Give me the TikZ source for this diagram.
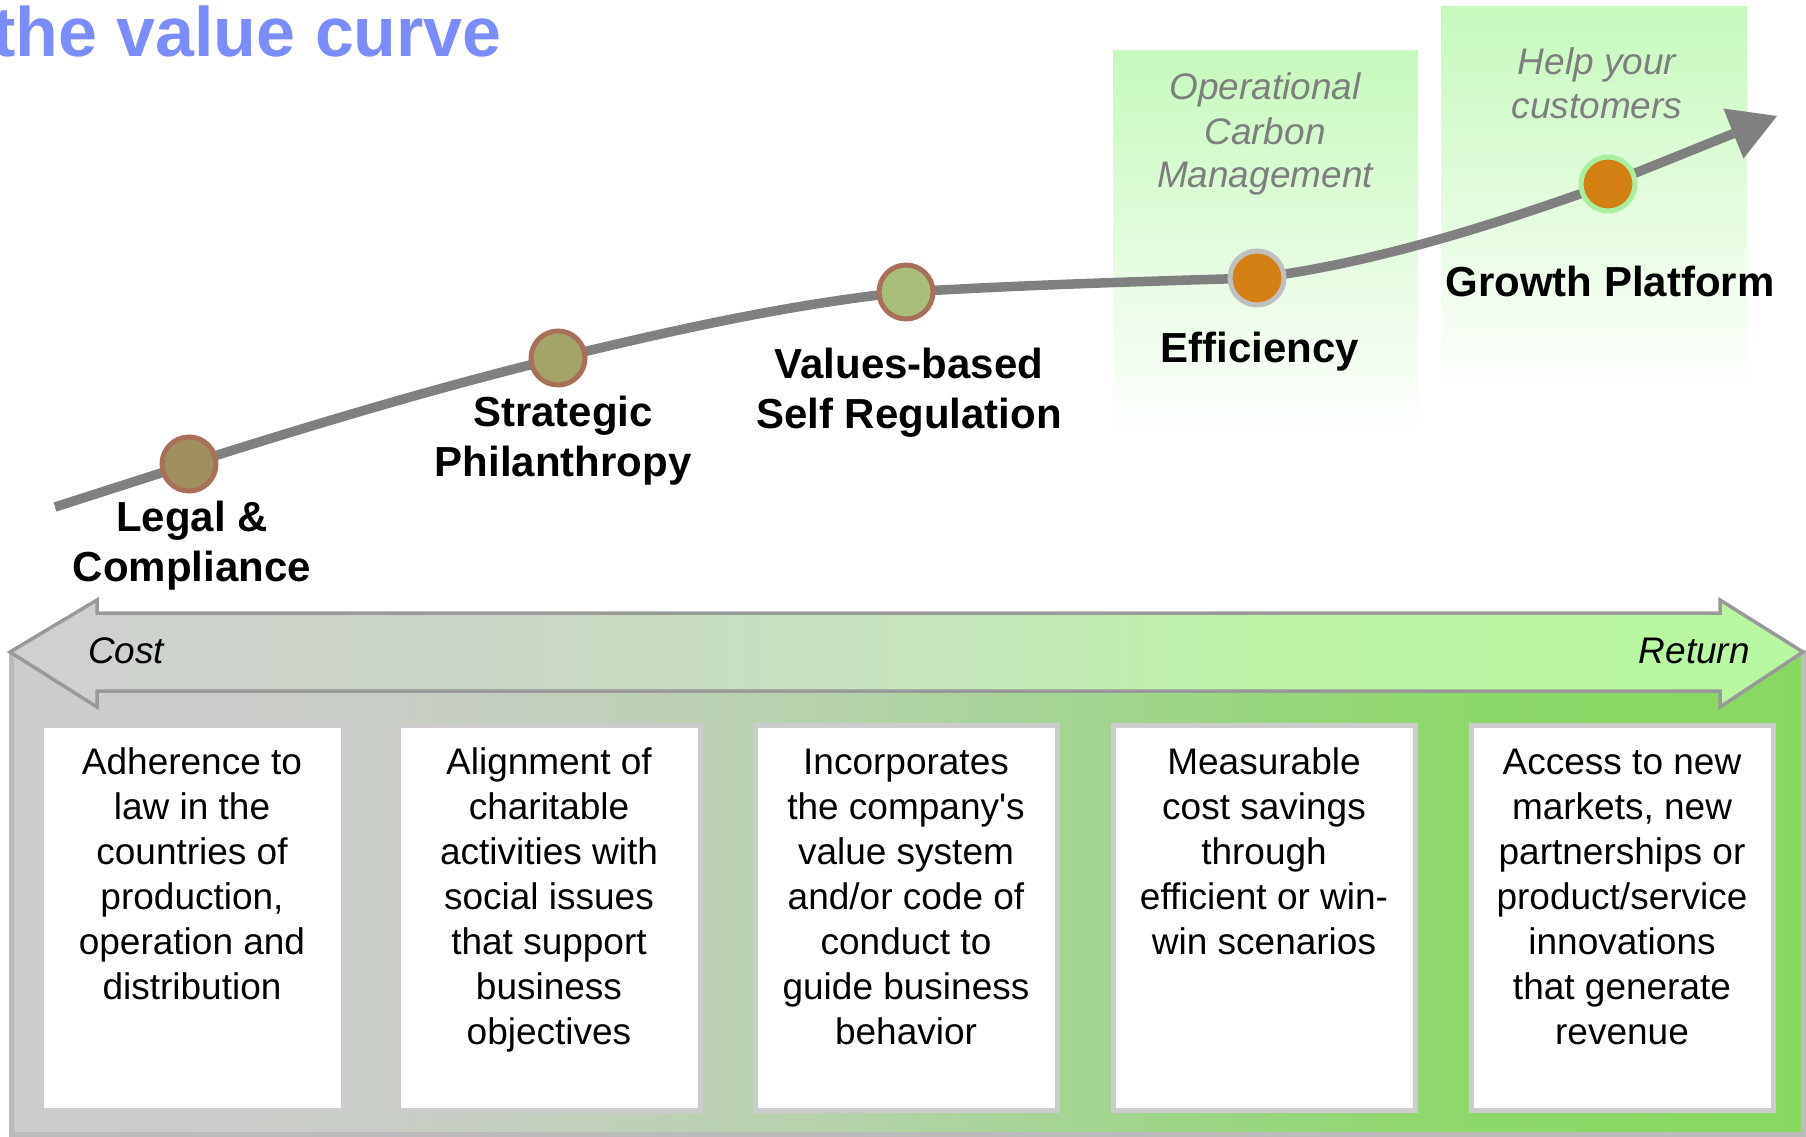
\documentclass[tikz,border=0pt]{standalone}
\usepackage{fontspec}
\setmainfont{Liberation Sans}
\newfontfamily\plainsans{Liberation Sans}
\usetikzlibrary{arrows.meta}

% palette
\definecolor{titleblue}{HTML}{7B8CFF}
\definecolor{curvegray}{HTML}{808080}
\definecolor{notegray}{HTML}{7E7E7E}
\definecolor{paleG}{HTML}{C6F9BC}
\definecolor{rimbrown}{HTML}{A87058}
\definecolor{legalfill}{HTML}{A09060}
\definecolor{stratfill}{HTML}{A4A468}
\definecolor{valuefill}{HTML}{A8BE78}
\definecolor{orangefill}{HTML}{D48014}
\definecolor{rimgray}{HTML}{C0C0C0}
\definecolor{rimgreen}{HTML}{A8F0A0}
\definecolor{frameline}{HTML}{BBBBBB}
\definecolor{bandline}{HTML}{999999}
\definecolor{cardline}{HTML}{CCCCCC}
% frame gradient stops
\definecolor{frA}{HTML}{CCCCCC}
\definecolor{frB}{HTML}{C9CDC7}
\definecolor{frC}{HTML}{B8D2AE}
\definecolor{frD}{HTML}{A8D49A}
\definecolor{frE}{HTML}{8ED86C}
\definecolor{frF}{HTML}{88D860}
% band gradient stops
\definecolor{bdA}{HTML}{D0D0D0}
\definecolor{bdB}{HTML}{CAD6C6}
\definecolor{bdC}{HTML}{C6E4BE}
\definecolor{bdD}{HTML}{BCF4A4}
\definecolor{bdE}{HTML}{B8F8A0}

\pgfdeclarehorizontalshading{framegrad}{100bp}{color(0bp)=(frA); color(25bp)=(frA); color(35bp)=(frB); color(47bp)=(frC); color(52.5bp)=(frD); color(65bp)=(frE); color(75bp)=(frF); color(100bp)=(frF)}
\pgfdeclarehorizontalshading{bandgrad}{100bp}{color(0bp)=(bdA); color(25bp)=(bdA); color(37.5bp)=(bdB); color(50bp)=(bdC); color(61bp)=(bdD); color(75bp)=(bdE); color(100bp)=(bdE)}

\begin{document}
\begin{tikzpicture}[x=1pt,y=-1pt,
  curve/.style={draw=curvegray, line width=9.5pt, line cap=butt,
    -{Triangle[length=47pt,width=54pt,line width=0pt]}},
  dot/.style={circle, minimum size=54pt, inner sep=0pt, line width=5pt},
  stage/.style={inner sep=0pt, anchor=base, font=\fontsize{42}{50.5}\selectfont\bfseries},
  note/.style={inner sep=0pt, anchor=base, text=notegray, font=\fontsize{37}{44}\selectfont\itshape},
  card/.style={draw=cardline, fill=white, line width=5pt, minimum width=302pt, minimum height=385pt, inner sep=0pt},
  cardtext/.style={inner sep=0pt, anchor=base, font=\fontsize{37}{45}\selectfont},
  axislabel/.style={inner sep=0pt, font=\fontsize{37}{45}\selectfont\itshape},
  glow/.style={top color=paleG, bottom color=white, draw=none}
]
\useasboundingbox (0,0) rectangle (1806,1137);

% title
\node[anchor=base west, inner sep=0pt, text=titleblue,
  font=\fontsize{70}{84}\selectfont\bfseries] (title) at (-8,57) {the value curve};

% highlighted stages
\path[glow] (1113,51) rectangle (1418,436);
\path[glow] (1441,7) rectangle (1747,392);

\node[note] (opnote) at (1265,100) {\parbox[t]{300pt}{\centering Operational\\Carbon\\Management}};
\node[note] (helpnote) at (1597,75) {\parbox[t]{300pt}{\centering Help your\\customers}};

% points on the value curve
\coordinate (c0) at (55,507);
\coordinate (cL) at (189,464);
\coordinate (cS) at (558,358);
\coordinate (cV) at (906,292);
\coordinate (cE) at (1257,278);
\coordinate (cG) at (1608,184);
\coordinate (cT) at (1777,116);

\draw[curve] (c0) -- (cL)
  .. controls (312,425) and (435,388) .. (cS)
  .. controls (674,330) and (790,304) .. (cV)
  .. controls (1023,285) and (1140,281.5) .. (cE)
  .. controls (1374,263) and (1491,226) .. (cG)
  -- (cT);

\node[dot, draw=rimbrown, fill=legalfill] (legal) at (cL) {};
\node[dot, draw=rimbrown, fill=stratfill] (strat) at (cS) {};
\node[dot, draw=rimbrown, fill=valuefill] (values) at (cV) {};
\node[dot, draw=rimgray, fill=orangefill] (eff) at (cE) {};
\node[dot, draw=rimgreen, fill=orangefill] (growth) at (cG) {};

\node[stage] (legallbl) at (192,531) {\parbox[t]{400pt}{\centering Legal \&\\Compliance}};
\node[stage] (stratlbl) at (563,426) {\parbox[t]{400pt}{\centering Strategic\\Philanthropy}};
\node[stage] (valueslbl) at (909,378) {\parbox[t]{400pt}{\centering Values-based\\Self Regulation}};
\node[stage] (efflbl) at (1260,362) {Efficiency};
\node[stage] (growthlbl) at (1610,296) {Growth Platform};

% cost / return frame
\path[draw=frameline, line width=5pt, shading=framegrad] (11,652) rectangle (1803,1134);
\path[draw=bandline, line width=3.5pt, shading=bandgrad, line join=miter]
  (10,652) -- (97,600) -- (97,613) -- (1720,613) -- (1720,600) -- (1803,652)
  -- (1720,707) -- (1720,691) -- (97,691) -- (97,707) -- cycle;
\node[axislabel, anchor=base west] (cost) at (88,663) {Cost};
\node[axislabel, anchor=base east] (return) at (1750,663) {Return};

% description cards
\node[card] (b1) at (192,918) {};
\node[card] (b2) at (549,918) {};
\node[card] (b3) at (906,918) {};
\node[card] (b4) at (1264,918) {};
\node[card] (b5) at (1622,918) {};

\node[cardtext] (t1) at (192,774) {\parbox[t]{330pt}{\centering Adherence to\\law in the\\countries of\\production,\\operation and\\distribution}};
\node[cardtext] (t2) at (549,774) {\parbox[t]{330pt}{\centering Alignment of\\charitable\\activities with\\social issues\\that support\\business\\objectives}};
\node[cardtext] (t3) at (906,774) {\parbox[t]{330pt}{\centering Incorporates\\the company{\plainsans'}s\\value system\\and/or code of\\conduct to\\guide business\\behavior}};
\node[cardtext] (t4) at (1264,774) {\parbox[t]{330pt}{\centering Measurable\\cost savings\\through\\efficient or win-\\win scenarios}};
\node[cardtext] (t5) at (1622,774) {\parbox[t]{330pt}{\centering Access to new\\markets, new\\partnerships or\\product/service\\innovations\\that generate\\revenue}};
\end{tikzpicture}
\end{document}
